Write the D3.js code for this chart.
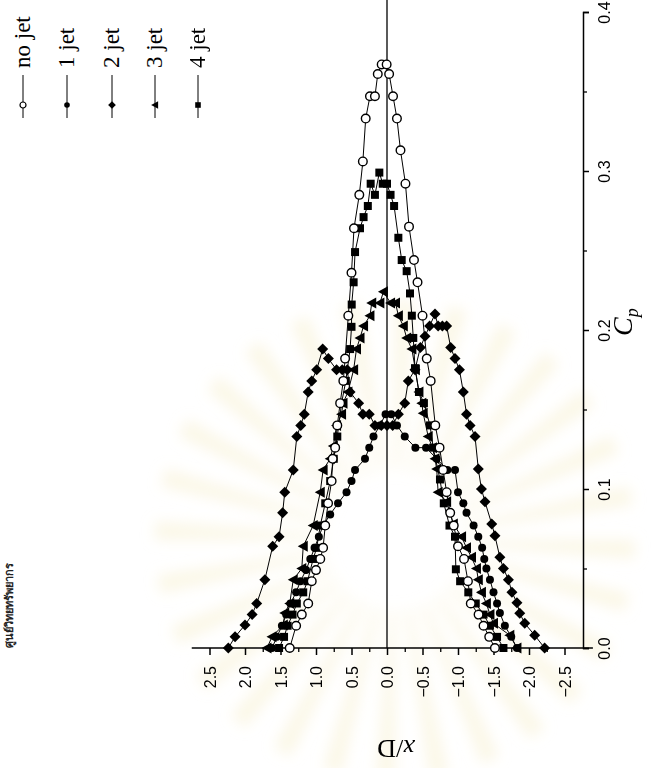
<!DOCTYPE html>
<html><head><meta charset="utf-8">
<script src="https://cdn.jsdelivr.net/npm/d3@7"></script>
<style>body{margin:0;background:#fff}svg{display:block}</style>
</head><body>
<svg id="c" width="666" height="768"></svg>
<script>
// ---- data: [x/D, Cp] ----
const noJet = [[1.37,0.000],[1.28,0.014],[1.20,0.021],[1.11,0.028],[1.06,0.042],[1.00,0.049],[0.94,0.056],[0.90,0.063],[0.87,0.077],[0.83,0.091],[0.78,0.105],[0.765,0.119],[0.73,0.126],[0.70,0.140],[0.66,0.154],[0.615,0.168],[0.59,0.182],[0.545,0.209],[0.50,0.236],[0.465,0.264],[0.39,0.285],[0.34,0.306],[0.30,0.333],[0.24,0.347],[0.17,0.347],[0.13,0.361],[0.075,0.367],[0.005,0.367],[-0.03,0.361],[-0.085,0.347],[-0.14,0.333],[-0.19,0.313],[-0.26,0.292],[-0.31,0.265],[-0.38,0.244],[-0.43,0.230],[-0.50,0.209],[-0.56,0.182],[-0.615,0.168],[-0.68,0.140],[-0.74,0.126],[-0.79,0.112],[-0.84,0.098],[-0.89,0.085],[-0.94,0.077],[-1.00,0.064],[-1.085,0.056],[-1.14,0.042],[-1.18,0.028],[-1.29,0.021],[-1.36,0.014],[-1.44,0.007],[-1.52,0.000]];
const oneJet = [[1.62,0.000],[1.55,0.007],[1.48,0.014],[1.42,0.021],[1.36,0.028],[1.28,0.035],[1.22,0.042],[1.14,0.049],[1.08,0.056],[1.02,0.063],[0.96,0.070],[0.90,0.077],[0.80,0.084],[0.69,0.091],[0.57,0.098],[0.50,0.105],[0.45,0.112],[0.31,0.119],[0.25,0.126],[0.19,0.133],[0.10,0.140],[0.02,0.147],[-0.06,0.147],[-0.14,0.140],[-0.25,0.133],[-0.40,0.126],[-0.55,0.126],[-0.70,0.119],[-0.85,0.112],[-0.958,0.112],[-1.00,0.098],[-1.075,0.091],[-1.12,0.085],[-1.22,0.077],[-1.286,0.070],[-1.34,0.063],[-1.37,0.056],[-1.40,0.050],[-1.45,0.043],[-1.50,0.035],[-1.55,0.028],[-1.59,0.022],[-1.66,0.014],[-1.75,0.007],[-1.83,0.000]];
const twoJet = [[2.235,0.000],[2.14,0.007],[2.00,0.0145],[1.90,0.021],[1.835,0.028],[1.72,0.043],[1.61,0.064],[1.52,0.070],[1.47,0.085],[1.44,0.098],[1.32,0.112],[1.27,0.133],[1.215,0.140],[1.165,0.147],[1.11,0.161],[1.06,0.168],[0.99,0.175],[0.906,0.188],[0.826,0.182],[0.71,0.175],[0.63,0.175],[0.56,0.175],[0.52,0.161],[0.40,0.154],[0.34,0.147],[0.25,0.147],[0.17,0.140],[0.08,0.140],[0.00,0.140],[-0.08,0.140],[-0.16,0.147],[-0.25,0.154],[-0.30,0.168],[-0.394,0.175],[-0.47,0.189],[-0.535,0.196],[-0.60,0.2025],[-0.676,0.210],[-0.72,0.2025],[-0.78,0.2025],[-0.84,0.2025],[-0.897,0.189],[-0.958,0.182],[-1.02,0.175],[-1.075,0.161],[-1.12,0.147],[-1.17,0.140],[-1.24,0.133],[-1.286,0.1126],[-1.33,0.100],[-1.38,0.092],[-1.475,0.078],[-1.52,0.0706],[-1.59,0.057],[-1.64,0.050],[-1.71,0.043],[-1.76,0.035],[-1.83,0.0285],[-1.87,0.0218],[-1.94,0.0155],[-2.08,0.008],[-2.22,0.000]];
const threeJet = [[1.69,0.000],[1.62,0.007],[1.46,0.0145],[1.44,0.022],[1.37,0.028],[1.32,0.043],[1.20,0.050],[1.18,0.064],[1.04,0.077],[0.94,0.098],[0.90,0.112],[0.80,0.119],[0.756,0.127],[0.71,0.140],[0.64,0.147],[0.62,0.154],[0.55,0.161],[0.47,0.175],[0.43,0.188],[0.38,0.195],[0.33,0.2025],[0.24,0.209],[0.215,0.217],[0.10,0.217],[0.05,0.224],[-0.05,0.217],[-0.12,0.217],[-0.16,0.209],[-0.23,0.2025],[-0.277,0.195],[-0.35,0.188],[-0.40,0.175],[-0.45,0.161],[-0.49,0.154],[-0.51,0.1476],[-0.58,0.133],[-0.64,0.126],[-0.676,0.119],[-0.70,0.1126],[-0.72,0.098],[-0.84,0.092],[-0.934,0.078],[-1.05,0.070],[-1.12,0.063],[-1.19,0.057],[-1.26,0.050],[-1.286,0.043],[-1.33,0.035],[-1.40,0.028],[-1.45,0.021],[-1.50,0.0155],[-1.73,0.008],[-1.83,0.000]];
const fourJet = [[1.52,0.000],[1.45,0.007],[1.40,0.014],[1.33,0.021],[1.27,0.028],[1.18,0.035],[1.12,0.042],[1.04,0.056],[0.99,0.063],[0.94,0.077],[0.87,0.091],[0.80,0.105],[0.75,0.119],[0.70,0.133],[0.64,0.154],[0.58,0.168],[0.52,0.188],[0.50,0.202],[0.497,0.216],[0.47,0.230],[0.45,0.249],[0.38,0.264],[0.33,0.271],[0.27,0.278],[0.23,0.292],[0.17,0.285],[0.108,0.299],[0.06,0.292],[0.00,0.292],[-0.05,0.285],[-0.10,0.278],[-0.16,0.258],[-0.207,0.244],[-0.277,0.237],[-0.324,0.223],[-0.35,0.209],[-0.37,0.195],[-0.394,0.176],[-0.45,0.161],[-0.52,0.154],[-0.606,0.140],[-0.65,0.126],[-0.746,0.106],[-0.80,0.091],[-0.88,0.077],[-0.958,0.070],[-0.97,0.0495],[-1.03,0.042],[-1.145,0.035],[-1.25,0.028],[-1.36,0.021],[-1.45,0.014],[-1.55,0.007],[-1.64,0.000]];
const seriesNames = ["no jet","1 jet","2 jet","3 jet","4 jet"];
const xdTicks = [2.5,2.0,1.5,1.0,0.5,0.0,-0.5,-1.0,-1.5,-2.0,-2.5];
const xdMinor = [2.25,1.75,1.25,0.75,0.25,-0.25,-0.75,-1.25,-1.75,-2.25];
const cpTicks = [0.0,0.1,0.2,0.3,0.4];
const cpMinor = [0.05,0.15,0.25,0.35];

const svg = d3.select("#c");
const xS = d3.scaleLinear().domain([2.5,-2.5]).range([209.5,564.5]);
const yS = d3.scaleLinear().domain([0,0.4]).range([648,12]);
const AXX = 583;
const fmt = d3.format(".1f");

// very faint watermark rays (scan background)
const defs = svg.append("defs");
defs.append("filter").attr("id","blur").append("feGaussianBlur").attr("stdDeviation",7);
const wm = svg.append("g").attr("transform","translate(395,540)").attr("filter","url(#blur)");
const nRays = 28;
for(let i=0;i<nRays;i++){
  const a0 = (i/nRays)*2*Math.PI, a1 = a0 + Math.PI/nRays*0.7;
  wm.append("path").attr("d", d3.arc()({innerRadius:70, outerRadius:240, startAngle:a0, endAngle:a1}))
    .attr("fill","#f7efcf").attr("opacity",0.5);
}

// header text (left edge)
svg.append("text").attr("transform","translate(13,648) rotate(-90)")
  .attr("font-family","Noto Sans, DejaVu Sans").attr("font-weight","bold").style("font-size","11px")
  .attr("fill","#222").text("ศูนย์วิทยทรัพยากร");

// x/D = 0 reference line
svg.append("line").attr("x1",xS(0)).attr("x2",xS(0)).attr("y1",yS(0)).attr("y2",0)
  .attr("stroke","#000").attr("stroke-width",1.3);

// x/D axis (horizontal, bottom)
svg.append("line").attr("x1",xS(2.75)).attr("x2",xS(-2.9)).attr("y1",yS(0)).attr("y2",yS(0))
  .attr("stroke","#000").attr("stroke-width",1.5);
const gx = svg.append("g").attr("transform",`translate(0,${yS(0)})`)
  .call(d3.axisBottom(xS).tickValues(xdTicks).tickSize(7).tickFormat(fmt));
gx.select(".domain").remove();
gx.selectAll(".tick line").attr("stroke-width",1.5);
gx.selectAll(".tick text").attr("transform","rotate(-90)").attr("x",-18).attr("y",0)
  .attr("dy","0.35em").attr("text-anchor","end")
  .style("font-size","16px").style("font-family","Liberation Sans, Arial").attr("fill","#000");
const gxm = svg.append("g").attr("transform",`translate(0,${yS(0)})`)
  .call(d3.axisBottom(xS).tickValues(xdMinor).tickSize(4).tickFormat(""));
gxm.select(".domain").remove();
gxm.selectAll(".tick line").attr("stroke-width",1.3);

// Cp axis (vertical, right)
const gy = svg.append("g").attr("transform",`translate(${AXX},0)`)
  .call(d3.axisRight(yS).tickValues(cpTicks).tickSize(6).tickFormat(fmt));
gy.select(".domain").attr("stroke-width",1.5);
gy.selectAll(".tick line").attr("stroke-width",1.5);
gy.selectAll(".tick text").attr("transform","rotate(-90)").attr("x",0).attr("y",21)
  .attr("dy","0.35em").attr("text-anchor","middle")
  .style("font-size","16px").style("font-family","Liberation Sans, Arial").attr("fill","#000");
const gym = svg.append("g").attr("transform",`translate(${AXX},0)`)
  .call(d3.axisRight(yS).tickValues(cpMinor).tickSize(4).tickFormat(""));
gym.select(".domain").remove();
gym.selectAll(".tick line").attr("stroke-width",1.3);

// axis titles
const cp = svg.append("text").attr("transform","translate(632,336) rotate(-90)")
  .style("font-family","Liberation Serif, Times New Roman").style("font-size","28px").attr("font-style","italic");
cp.append("tspan").text("C");
cp.append("tspan").style("font-size","18px").attr("dy",6).text("p");
const xl = svg.append("text").attr("transform","translate(396,740) rotate(180)")
  .attr("text-anchor","middle").style("font-family","Liberation Serif, Times New Roman").style("font-size","26px");
xl.append("tspan").attr("font-style","italic").text("x");
xl.append("tspan").text("/D");

// markers
const sym = {
  circleOpen: g => g.append("circle").attr("r",4.3).attr("fill","#fff").attr("stroke","#000").attr("stroke-width",1.4),
  circle: g => g.append("circle").attr("r",4).attr("fill","#000"),
  diamond: g => g.append("path").attr("d","M0,-5.5L5.5,0L0,5.5L-5.5,0Z").attr("fill","#000"),
  triangle: g => g.append("path").attr("d","M-5.5,0L4.5,-5.5L4.5,5.5Z").attr("fill","#000"),
  square: g => g.append("path").attr("d","M-4,-4H4V4H-4Z").attr("fill","#000")
};
const allSeries = [
  {data:noJet, m:"circleOpen"},
  {data:oneJet, m:"circle"},
  {data:twoJet, m:"diamond"},
  {data:threeJet, m:"triangle"},
  {data:fourJet, m:"square"}
];
const line = d3.line().x(d=>xS(d[0])).y(d=>yS(d[1]));
allSeries.forEach(s=>{
  svg.append("path").attr("d",line(s.data)).attr("fill","none").attr("stroke","#000").attr("stroke-width",1);
});
allSeries.slice().reverse().forEach(s=>{
  s.data.forEach(d=>{
    const g = svg.append("g").attr("transform",`translate(${xS(d[0])},${yS(d[1])})`);
    sym[s.m](g);
  });
});

// legend
const legX = [23,67,112,155,198];
seriesNames.forEach((n,i)=>{
  const x = legX[i];
  svg.append("line").attr("x1",x).attr("x2",x).attr("y1",75).attr("y2",118).attr("stroke","#000").attr("stroke-width",1);
  const g = svg.append("g").attr("transform",`translate(${x},105)`);
  if(i===0) g.append("circle").attr("r",3).attr("fill","#fff").attr("stroke","#000").attr("stroke-width",1.2);
  else sym[allSeries[i].m](g).attr("transform","scale(0.7)");
  svg.append("text").attr("transform",`translate(${x+7},68) rotate(-90)`)
    .style("font-family","Liberation Serif, Times New Roman").style("font-size","23px").text(n);
});
</script>
</body></html>
